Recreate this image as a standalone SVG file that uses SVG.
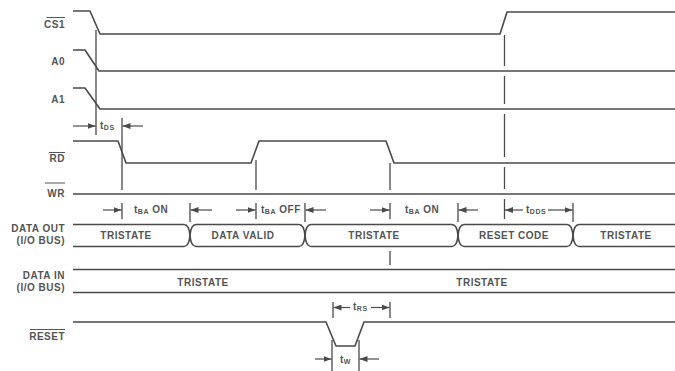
<svg xmlns="http://www.w3.org/2000/svg" width="675" height="371" viewBox="0 0 675 371">
<defs>
<marker id="ah" markerUnits="userSpaceOnUse" markerWidth="8" markerHeight="6" refX="8" refY="3" orient="auto">
<path d="M0,0 L8,3 L0,6 z" fill="#4a4a4a"/>
</marker>
<style>
.sig{fill:none;stroke:#4a4a4a;stroke-width:1.6;stroke-linejoin:round}
.ln{fill:none;stroke:#4a4a4a;stroke-width:1.3}
.ar{fill:none;stroke:#4a4a4a;stroke-width:1.2;marker-end:url(#ah)}
.ol{stroke:#555;stroke-width:1}
.lb{font-family:"Liberation Sans",Arial,sans-serif;font-size:10px;font-weight:bold;fill:#555;letter-spacing:0.5px}
.r{text-anchor:end}
.m{text-anchor:middle}
.sb{font-size:7px}
</style>
</defs>
<rect width="675" height="371" fill="#fff"/>

<g id="cs1">
<text class="lb r" x="65" y="28">CS1</text>
<line class="ol" x1="46.5" y1="17.5" x2="65" y2="17.5"/>
<path class="sig" d="M73,11 H90 L100,34 H500 L507,12 H675"/>
</g>
<g id="a0">
<text class="lb r" x="65" y="65">A0</text>
<path class="sig" d="M73,50 H85 L99,71 H675"/>
</g>
<g id="a1">
<text class="lb r" x="65" y="103">A1</text>
<path class="sig" d="M73,88 H85 L100,109 H675"/>
</g>
<g id="rd">
<text class="lb r" x="65" y="162">RD</text>
<line class="ol" x1="49" y1="152.5" x2="65" y2="152.5"/>
<path class="sig" d="M73,141 H118 L126,163 H251 L259,141 H386 L394,163 H675"/>
</g>
<g id="wr">
<text class="lb r" x="65" y="197">WR</text>
<line class="ol" x1="45" y1="183" x2="65" y2="183"/>
<path class="sig" d="M73,194 H675"/>
</g>
<g id="dataout">
<text class="lb r" x="65" y="232">DATA OUT</text>
<text class="lb r" x="65" y="243.5">(I/O BUS)</text>
<path class="sig" d="M73,224.5 H184 Q189,224.5 190,235.5 Q191,246.5 196,246.5 H299 Q304,246.5 305,235.5 Q306,224.5 311,224.5 H452 Q457,224.5 458,235.5 Q459,246.5 464,246.5 H567 Q572,246.5 573,235.5 Q574,224.5 579,224.5 H675"/>
<path class="sig" d="M73,246.5 H184 Q189,246.5 190,235.5 Q191,224.5 196,224.5 H299 Q304,224.5 305,235.5 Q306,246.5 311,246.5 H452 Q457,246.5 458,235.5 Q459,224.5 464,224.5 H567 Q572,224.5 573,235.5 Q574,246.5 579,246.5 H675"/>
<text class="lb m" x="126" y="239">TRISTATE</text>
<text class="lb m" x="243" y="239">DATA VALID</text>
<text class="lb m" x="374" y="239">TRISTATE</text>
<text class="lb m" x="514" y="239">RESET CODE</text>
<text class="lb m" x="626" y="239">TRISTATE</text>
</g>
<g id="datain">
<text class="lb r" x="65" y="279">DATA IN</text>
<text class="lb r" x="65" y="290.5">(I/O BUS)</text>
<path class="sig" d="M73,269.5 H675 M73,292.5 H675"/>
<text class="lb m" x="203" y="286">TRISTATE</text>
<text class="lb m" x="482" y="286">TRISTATE</text>
</g>
<g id="reset">
<text class="lb r" x="65" y="340">RESET</text>
<line class="ol" x1="30" y1="329.5" x2="65" y2="329.5"/>
<path class="sig" d="M73,322 H326 L336,346 H355 L364,322 H675"/>
</g>

<g id="connectors">
<path class="ln" d="M96,30 V135 M122,118 V190 M256,160 V190 M390,163 V190"/>
<path class="ln" d="M504.5,35 V66 M504.5,76 V104 M504.5,114 V157 M504.5,167 V189 M504.5,199 V219"/>
<path class="ln" d="M122,203 V219 M190,203 V222 M256,203 V219 M305,203 V222 M390,203 V219 M458,203 V222 M573,203 V222"/>
<path class="ln" d="M390,251 V265 M390,302 V318 M333,302 V318 M332,340 V371 M359,340 V371"/>
<!-- tDS -->
<line class="ar" x1="73" y1="126" x2="95.5" y2="126"/>
<line class="ar" x1="143" y1="126" x2="122.5" y2="126"/>
<text class="lb" x="100" y="129">t<tspan class="sb" dy="1">DS</tspan></text>
<!-- tBA ON 1 -->
<line class="ar" x1="103" y1="210" x2="121.5" y2="210"/>
<text class="lb" x="134" y="213">t<tspan class="sb" dy="1">BA</tspan><tspan dy="-1"> ON</tspan></text>
<line class="ar" x1="212" y1="210" x2="190.5" y2="210"/>
<!-- tBA OFF -->
<line class="ar" x1="236" y1="210" x2="255.5" y2="210"/>
<text class="lb" x="261" y="213">t<tspan class="sb" dy="1">BA</tspan><tspan dy="-1"> OFF</tspan></text>
<line class="ar" x1="326" y1="210" x2="305.5" y2="210"/>
<!-- tBA ON 2 -->
<line class="ar" x1="370" y1="210" x2="389.5" y2="210"/>
<text class="lb" x="405" y="213">t<tspan class="sb" dy="1">BA</tspan><tspan dy="-1"> ON</tspan></text>
<line class="ar" x1="478" y1="210" x2="458.5" y2="210"/>
<!-- tDDS -->
<line class="ar" x1="523" y1="210" x2="505" y2="210"/>
<text class="lb" x="526" y="213">t<tspan class="sb" dy="1">DDS</tspan></text>
<line class="ar" x1="548" y1="210" x2="572.5" y2="210"/>
<!-- tRS -->
<line class="ar" x1="350" y1="307.5" x2="333.5" y2="307.5"/>
<text class="lb" x="353" y="310">t<tspan class="sb" dy="1">RS</tspan></text>
<line class="ar" x1="371" y1="307.5" x2="389.5" y2="307.5"/>
<!-- tW -->
<line class="ar" x1="315" y1="359" x2="331.5" y2="359"/>
<text class="lb" x="340" y="363">t<tspan class="sb" dy="1">W</tspan></text>
<line class="ar" x1="379" y1="359" x2="359.5" y2="359"/>
</g>
</svg>
